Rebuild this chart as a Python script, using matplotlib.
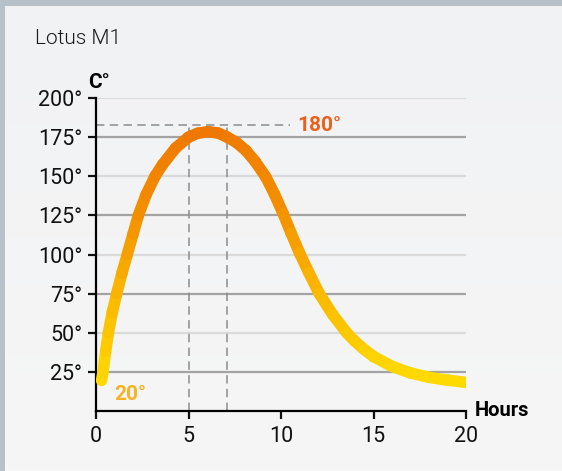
import numpy as np
import matplotlib.pyplot as plt
from matplotlib.collections import LineCollection
from matplotlib.colors import LinearSegmentedColormap

# ---------------------------------------------------------------------------------------------------------------- #
# Data
hours = [0.30, 0.38, 0.52, 0.67, 0.88, 1.12, 1.40, 1.69, 2.00, 2.29, 2.70, 3.19, 3.60, 4.30, 5.00, 5.50, 6.07,
         6.60, 7.10, 7.60, 8.10, 8.60, 9.18, 9.65, 10.12, 10.55, 11.00, 11.50, 12.07, 12.80, 13.55, 14.00,
         14.50, 15.00, 16.00, 17.00, 18.00, 19.00, 20.00]
temps = [19.5, 25.0, 38.0, 50.0, 63.0, 75.0, 88.0, 100.0, 113.0, 125.0, 138.0, 150.0, 157.5, 168.0, 175.0, 177.5,
         178.5, 177.6, 175.0, 171.5, 166.5, 159.5, 149.5, 138.5, 126.0, 113.5, 101.0, 88.5, 75.0, 61.5, 50.0,
         44.5, 39.3, 34.8, 28.5, 24.3, 21.5, 19.7, 18.3]
y_ticks = [25, 50, 75, 100, 125, 150, 175, 200]
x_ticks = [0, 5, 10, 15, 20]
peak_hours = [5, 7.1]
peak_temp = 182.6
label_max = '180°'
label_min = '20°'

# ---------------------------------------------------------------------------------------------------------------- #
plt.rcParams['font.family'] = ['Roboto', 'DejaVu Sans']

fig = plt.figure(figsize=(5.62, 4.71), dpi=100)
fig.patch.set_facecolor('#b8c0c8')

# light panel with a faint vertical gradient
bg = fig.add_axes([5 / 562, 0, 1, 1 - 6 / 471], zorder=-10)
bg_cmap = LinearSegmentedColormap.from_list('bg', ['#f1f2f4', '#f6f6f6'])
bg.imshow(np.linspace(0, 1, 100).reshape(-1, 1), cmap=bg_cmap, aspect='auto', extent=[0, 1, 1, 0])
bg.set_axis_off()

ax = fig.add_axes([96 / 562, 1 - 411 / 471, 370 / 562, 313 / 471])
ax.set_facecolor('none')
ax.set_xlim(0, 20)
ax.set_ylim(0, 200)

# Alternating grid lines
for i, yv in enumerate(y_ticks):
    col = '#a3a3a3' if i % 2 == 0 else '#dadada'
    ax.axhline(yv, color=col, lw=1.6, zorder=1)

# Dashed guide lines at the peak
ax.plot([0, 10.5], [peak_temp, peak_temp], color='#8c8c8c', lw=1.1, ls=(0, (5.5, 3.5)), zorder=2)
for xv in peak_hours:
    ax.plot([xv, xv], [0, peak_temp], color='#8c8c8c', lw=1.1, ls=(0, (5.5, 3.5)), zorder=2)

# Temperature curve coloured from yellow (low) to orange (high)
cmap = LinearSegmentedColormap.from_list('heat', ['#ffda00', '#fbb900', '#f39000', '#ef7800'])
pts = np.array([hours, temps]).T.reshape(-1, 1, 2)
segs = np.concatenate([pts[:-1], pts[1:]], axis=1)
mid = (np.array(temps[:-1]) + np.array(temps[1:])) / 2
lc = LineCollection(segs, cmap=cmap, norm=plt.Normalize(20, 180), linewidths=8.3,
                    capstyle='round', joinstyle='round', zorder=3)
lc.set_array(mid)
ax.add_collection(lc)

# Labels
ax.text(10.9, peak_temp, label_max, color='#e8621e', fontsize=15, fontweight='bold', va='center', ha='left')
ax.text(1.0, 10.5, label_min, color='#f6b324', fontsize=15, fontweight='bold', va='center', ha='left')
ax.text(-0.022, 1.02, 'C°', transform=ax.transAxes, fontsize=15, fontweight='bold', va='bottom', ha='left')
ax.text(20.45, 0, 'Hours', fontsize=14.5, fontweight='bold', va='center', ha='left', clip_on=False)
fig.text(35 / 562, 1 - 38 / 471, 'Lotus M1', fontsize=15, fontweight=300, va='center', ha='left',
         color='#1a1a1a')

# Axes styling
for s in ['top', 'right']:
    ax.spines[s].set_visible(False)
for s in ['left', 'bottom']:
    ax.spines[s].set_linewidth(1.6)
    ax.spines[s].set_color('black')
ax.set_yticks(y_ticks)
ax.set_yticklabels([f'{v}°' for v in y_ticks])
ax.set_xticks(x_ticks)
ax.tick_params(axis='both', length=6, width=1.6, labelsize=15.5, pad=4, colors='#111111')
ax.tick_params(axis='x', pad=5)

fig.savefig('out.png', dpi=100, facecolor=fig.get_facecolor())
